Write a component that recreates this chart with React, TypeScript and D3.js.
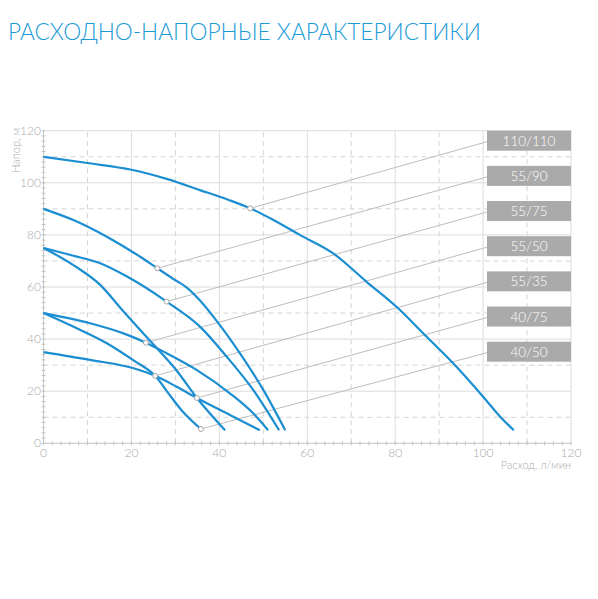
import React from 'react';
import * as d3 from 'd3';

// flow, л/мин -> head, м
const curve110_110: [number, number][] = [
  [0, 110], [10, 107.6], [20, 105], [28, 101.5], [35.6, 97.2], [42, 93.5], [47, 90.2],
  [52, 86], [58.3, 80], [65.9, 72.9], [73.5, 62], [80.3, 52.4], [87.1, 41], [93.2, 30.7],
  [100, 17.9], [104, 10], [107, 5],
];
const curve55_90: [number, number][] = [
  [0, 90], [6.8, 85.7], [14.4, 79.3], [22, 71.6], [25.9, 67.2], [30, 62.6], [32.6, 59.8],
  [35.5, 55], [39.6, 46.5], [44.7, 34.5], [50, 20.5], [55, 5],
];
const curve55_75: [number, number][] = [
  [0, 75], [6.8, 72], [12.9, 69.1], [19, 64], [28, 54.4], [35.6, 44.8], [41.7, 33.2],
  [47.7, 20.5], [53.6, 5],
];
const curve55_50: [number, number][] = [
  [0, 50], [10.6, 46.1], [18.2, 42.2], [23.3, 38.6], [27.3, 35.2], [34.9, 28.1], [42.4, 19.2],
  [47.7, 11.5], [51.1, 5],
];
const curve55_35: [number, number][] = [
  [0, 35], [10.6, 32], [20.5, 28.8], [25.4, 25.9], [30.3, 21.7], [34.9, 17.4], [42.4, 10.9],
  [49.2, 5],
];
const curve40_75: [number, number][] = [
  [0, 75], [6.8, 68.4], [12.9, 60.8], [18, 51], [22, 43.5], [25.8, 36.5], [30, 28.5],
  [34.9, 17.4], [41.3, 5],
];
const curve40_50: [number, number][] = [
  [0, 50], [7, 44.6], [14.4, 38.4], [20.5, 31.8], [25.4, 25.9], [28.5, 19], [31.5, 12.5],
  [35.8, 5.5],
];

const seriesNames = ['110/110', '55/90', '55/75', '55/50', '55/35', '40/75', '40/50'];
const seriesCurves = [curve110_110, curve55_90, curve55_75, curve55_50, curve55_35, curve40_75, curve40_50];
// marked point on each curve that the label leader starts from
const markerPoints: [number, number][] = [
  [47, 90.2], [25.9, 67.2], [28, 54.4], [23.3, 38.6], [25.4, 25.9], [34.9, 17.4], [35.8, 5.5],
];

const xTicks = [0, 20, 40, 60, 80, 100, 120];
const yTicks = [0, 20, 40, 60, 80, 100, 120];
const xDashed = [10, 30, 50, 70, 90, 110];
const yDashed = [10, 30, 50, 70, 90, 110];

const title = 'РАСХОДНО-НАПОРНЫЕ ХАРАКТЕРИСТИКИ';
const yTitle = 'Напор, м';
const xTitle = 'Расход, л/мин';

const W = 598;
const H = 599;
const blue = '#1b8ed2';
const font = 'Lato, "Noto Sans", sans-serif';

export default function App() {
  const x = d3.scaleLinear().domain([0, 120]).range([43.5, 571]);
  const y = d3.scaleLinear().domain([0, 120]).range([443.3, 130.7]);
  const line = d3
    .line<[number, number]>()
    .x((d) => x(d[0]))
    .y((d) => y(d[1]))
    .curve(d3.curveMonotoneX);

  const boxTop = d3.scalePoint<string>().domain(seriesNames).range([130.7, 341.7]);
  const boxX = 487;
  const boxW = 84;
  const boxH = 20;

  const minor = d3.range(0, 121, 2);

  return (
    <svg width={W} height={H} style={{ position: 'absolute', left: 0, top: 0, background: '#fff' }}>
      <text x={8} y={39.5} fill="#1a9ad7" fontFamily={font} fontWeight={300} fontSize={23}
        textLength={473} lengthAdjust="spacingAndGlyphs">{title}</text>

      {/* grid */}
      <g>
        {xDashed.map((v) => (
          <line key={'xd' + v} x1={x(v)} x2={x(v)} y1={y(0)} y2={y(120)} stroke="#d4d4d4" strokeDasharray="5,4" />
        ))}
        {yDashed.map((v) => (
          <line key={'yd' + v} x1={x(0)} x2={x(120)} y1={y(v)} y2={y(v)} stroke="#d4d4d4" strokeDasharray="5,4" />
        ))}
        {xTicks.filter((v) => v > 0).map((v) => (
          <line key={'xs' + v} x1={x(v)} x2={x(v)} y1={y(0)} y2={y(120)} stroke="#dcdcdc" />
        ))}
        {yTicks.filter((v) => v > 0).map((v) => (
          <line key={'ys' + v} x1={x(0)} x2={x(120)} y1={y(v)} y2={y(v)} stroke="#dcdcdc" />
        ))}
      </g>

      {/* axes with minor ticks */}
      <line x1={x(0)} x2={x(120)} y1={y(0)} y2={y(0)} stroke="#c4c4c4" />
      <line x1={x(0)} x2={x(0)} y1={y(0)} y2={y(120)} stroke="#c4c4c4" />
      {minor.map((v) => (
        <g key={'m' + v}>
          <line x1={x(v)} x2={x(v)} y1={y(0) - 2} y2={y(0) + 2} stroke="#c4c4c4" />
          <line x1={x(0) - 2} x2={x(0) + 2} y1={y(v)} y2={y(v)} stroke="#c4c4c4" />
        </g>
      ))}

      {xTicks.map((v) => (
        <text key={'xt' + v} x={x(v)} y={457} textAnchor="middle" fill="#a8a8a8"
          fontFamily={font} fontWeight={300} fontSize={12}>{v}</text>
      ))}
      {yTicks.map((v) => (
        <text key={'yt' + v} x={41} y={y(v) + 4} textAnchor="end" fill="#a8a8a8"
          fontFamily={font} fontWeight={300} fontSize={12}>{v}</text>
      ))}
      <text transform="translate(20,128) rotate(-90)" textAnchor="end" fill="#a8a8a8"
        fontFamily={font} fontWeight={300} fontSize={11}>{yTitle}</text>
      <text x={571} y={469} textAnchor="end" fill="#a8a8a8"
        fontFamily={font} fontWeight={300} fontSize={11}>{xTitle}</text>

      {/* leader lines */}
      {seriesNames.map((name, i) => (
        <line key={'ld' + name} x1={x(markerPoints[i][0])} y1={y(markerPoints[i][1])}
          x2={boxX} y2={(boxTop(name) as number) + boxH / 2 + 1} stroke="#bdbdbd" strokeWidth={1} />
      ))}

      {/* curves */}
      {seriesCurves.map((c, i) => (
        <path key={'c' + i} d={line(c) || ''} fill="none" stroke={blue} strokeWidth={2.2} />
      ))}

      {markerPoints.map((p, i) => (
        <circle key={'mk' + i} cx={x(p[0])} cy={y(p[1])} r={2.5} fill="#fff" stroke="#a8a8a8" strokeWidth={1} />
      ))}

      {/* label boxes */}
      {seriesNames.map((name) => (
        <g key={'b' + name}>
          <rect x={boxX} y={boxTop(name)} width={boxW} height={boxH} fill="#aaaaaa" />
          <text x={boxX + boxW / 2} y={(boxTop(name) as number) + 15} textAnchor="middle" fill="#fff"
            fontFamily={font} fontWeight={300} fontSize={13.5}>{name}</text>
        </g>
      ))}
    </svg>
  );
}
